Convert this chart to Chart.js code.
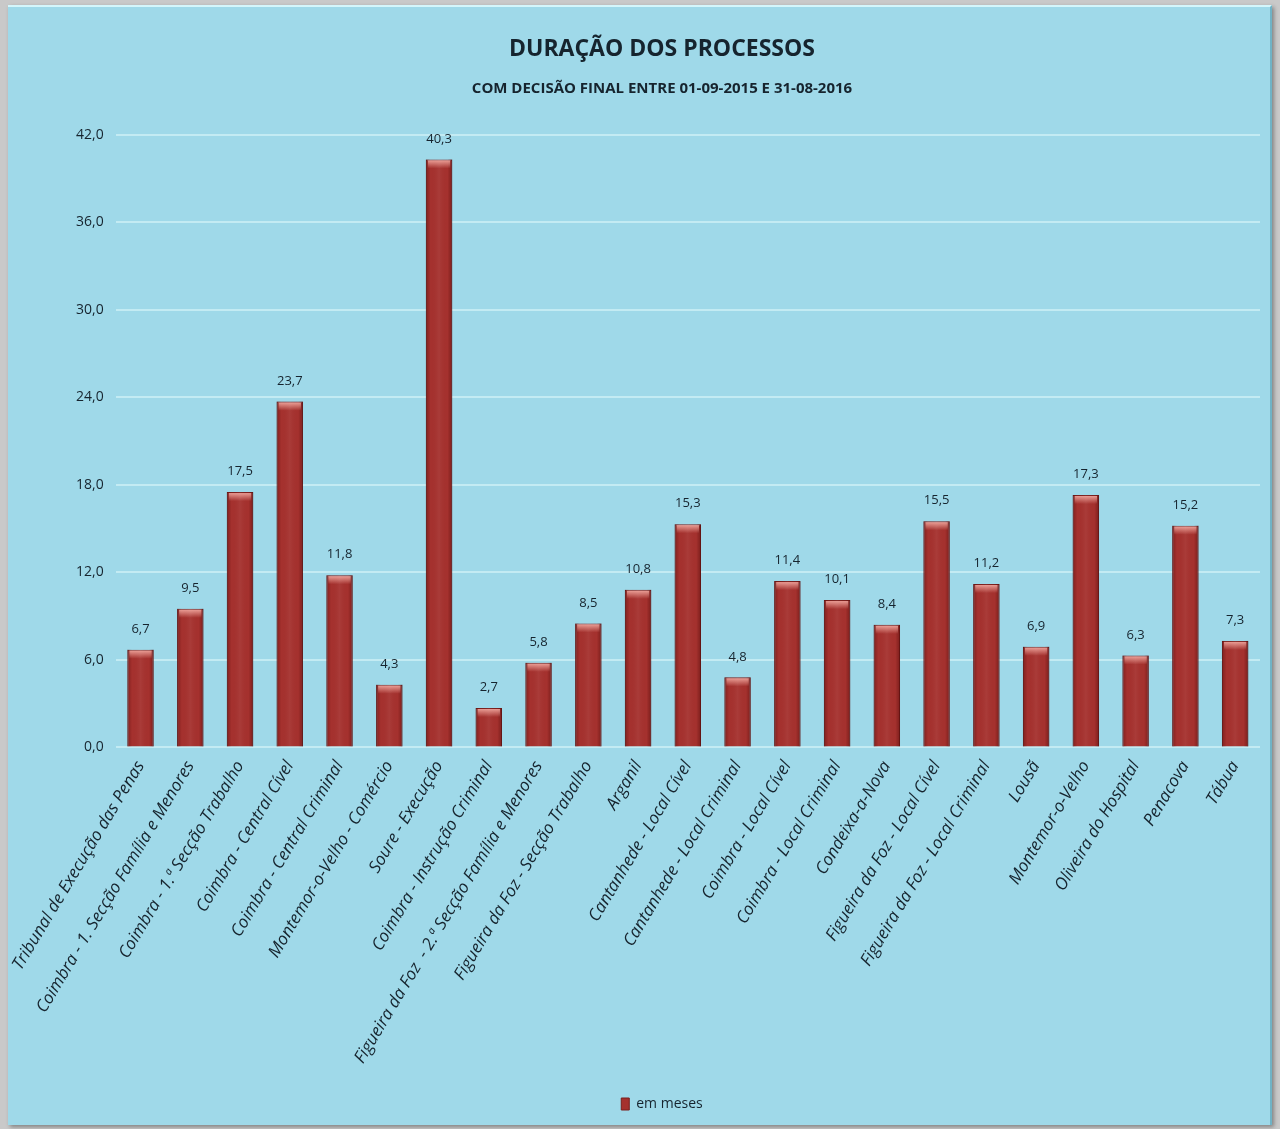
<!DOCTYPE html>
<html>
<head>
<meta charset="utf-8">
<script src="https://cdn.jsdelivr.net/npm/chart.js@4.4.1/dist/chart.umd.min.js"></script>
<style>
  html, body { margin: 0; padding: 0; background: #c9c9c9; }
  body { width: 1280px; height: 1129px; position: relative; overflow: hidden; }
  .panel {
    position: absolute; left: 8px; top: 5px; width: 1264px; height: 1120px;
    background: #9fd9e9;
    border-top: 2px solid #d4f6fb;
    border-right: 2px solid #6fb3c6;
    box-sizing: border-box;
    box-shadow: 2px 2px 4px rgba(0,0,0,0.35);
  }
  canvas { display: block; }
</style>
</head>
<body>
<div class="panel">
  <canvas id="chart-duracao" width="1262" height="1118"></canvas>
</div>
<script>
  // Categories (tribunais / secções)
  const labels = [
    'Tribunal de Execução das Penas',
    'Coimbra - 1. Secção Família e Menores',
    'Coimbra - 1.ª Secção Trabalho',
    'Coimbra - Central Cível',
    'Coimbra - Central Criminal',
    'Montemor-o-Velho - Comércio',
    'Soure - Execução',
    'Coimbra - Instrução Criminal',
    'Figueira da Foz  - 2.ª Secção Família e Menores',
    'Figueira da Foz - Secção Trabalho',
    'Arganil',
    'Cantanhede - Local Cível',
    'Cantanhede - Local Criminal',
    'Coimbra - Local Cível',
    'Coimbra - Local Criminal',
    'Condeixa-a-Nova',
    'Figueira da Foz - Local Cível',
    'Figueira da Foz - Local Criminal',
    'Lousã',
    'Montemor-o-Velho',
    'Oliveira do Hospital',
    'Penacova',
    'Tábua'
  ];

  // Duração em meses
  const emMeses = [6.7, 9.5, 17.5, 23.7, 11.8, 4.3, 40.3, 2.7, 5.8, 8.5, 10.8, 15.3, 4.8, 11.4, 10.1, 8.4, 15.5, 11.2, 6.9, 17.3, 6.3, 15.2, 7.3];

  const yMin = 0;
  const yMax = 42;
  const yStep = 6;

  const textColor = '#16242e';
  const family = '"Open Sans", sans-serif';
  const fmt = v => v.toFixed(1).replace('.', ',');

  // Bevel / shading over each bar, plus value labels
  const barDecor = {
    id: 'barDecor',
    afterDatasetsDraw(chart) {
      const ctx = chart.ctx;
      const meta = chart.getDatasetMeta(0);
      meta.data.forEach((bar, i) => {
        const p = bar.getProps(['x', 'y', 'base', 'width'], true);
        const left = p.x - p.width / 2;
        const right = p.x + p.width / 2;
        const h = p.base - p.y;

        ctx.save();
        const g = ctx.createLinearGradient(left, 0, right, 0);
        g.addColorStop(0, 'rgba(60,0,0,0.35)');
        g.addColorStop(0.18, 'rgba(60,0,0,0.0)');
        g.addColorStop(0.5, 'rgba(255,255,255,0.05)');
        g.addColorStop(0.82, 'rgba(60,0,0,0.0)');
        g.addColorStop(1, 'rgba(60,0,0,0.4)');
        ctx.fillStyle = g;
        ctx.fillRect(left, p.y, p.width, h);

        const bevel = Math.min(9, h);
        const tg = ctx.createLinearGradient(0, p.y, 0, p.y + bevel);
        tg.addColorStop(0, 'rgba(255,190,180,0.85)');
        tg.addColorStop(1, 'rgba(255,190,180,0.0)');
        ctx.fillStyle = tg;
        ctx.fillRect(left + 2, p.y + 1, p.width - 4, bevel);
        ctx.restore();

        ctx.save();
        ctx.fillStyle = textColor;
        ctx.font = '13px ' + family;
        ctx.textAlign = 'center';
        ctx.textBaseline = 'bottom';
        ctx.fillText(fmt(emMeses[i]), p.x, p.y - 14);
        ctx.restore();
      });
    }
  };

  const ctx = document.getElementById('chart-duracao').getContext('2d');

  new Chart(ctx, {
    type: 'bar',
    data: {
      labels: labels,
      datasets: [{
        label: 'em meses',
        data: emMeses,
        backgroundColor: '#a5312e',
        borderColor: '#7a1f1d',
        borderWidth: 1,
        categoryPercentage: 1.0,
        barPercentage: 0.53
      }]
    },
    options: {
      responsive: false,
      animation: false,
      layout: { padding: { left: 56, right: 10, top: 0, bottom: 4 } },
      plugins: {
        title: {
          display: true,
          text: 'DURAÇÃO DOS PROCESSOS',
          color: textColor,
          font: { family: family, size: 23, weight: 'bold' },
          padding: { top: 29, bottom: 0 }
        },
        subtitle: {
          display: true,
          text: 'COM DECISÃO FINAL ENTRE 01-09-2015 E 31-08-2016',
          color: textColor,
          font: { family: family, size: 15, weight: 'bold' },
          padding: { top: 16, bottom: 37 }
        },
        legend: {
          position: 'bottom',
          labels: {
            color: textColor,
            boxWidth: 8,
            boxHeight: 12,
            padding: 14,
            font: { family: family, size: 14 }
          }
        },
        tooltip: { enabled: false }
      },
      scales: {
        x: {
          grid: { display: false },
          border: { display: false },
          afterFit: scale => { scale.height += 14; },
          ticks: {
            color: textColor,
            autoSkip: false,
            minRotation: 59,
            maxRotation: 59,
            padding: 2,
            font: { family: family, size: 17, style: 'italic' }
          }
        },
        y: {
          min: yMin,
          max: yMax,
          grid: { color: '#c3ebf3', lineWidth: 2, drawTicks: false },
          border: { display: false },
          ticks: {
            stepSize: yStep,
            color: textColor,
            padding: 12,
            font: { family: family, size: 14 },
            callback: v => fmt(v)
          }
        }
      }
    },
    plugins: [barDecor]
  });
</script>
</body>
</html>
